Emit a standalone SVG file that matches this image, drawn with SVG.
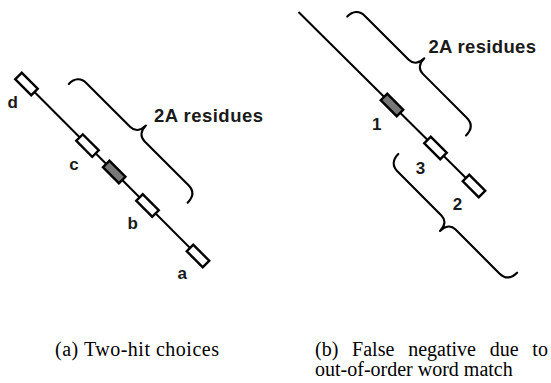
<svg xmlns="http://www.w3.org/2000/svg" xmlns:xlink="http://www.w3.org/1999/xlink" width="551" height="383" viewBox="0 0 551 383">
<style>
.ln{stroke:#000;stroke-width:2;fill:none}
.bx{fill:#fff;stroke:#000;stroke-width:2.4}
.gr{fill:#777;stroke:#000;stroke-width:2.4}
.br{fill:none;stroke:#000;stroke-width:2.1;stroke-linecap:round;stroke-linejoin:round}
.lb{font-family:"Liberation Sans",Arial,sans-serif;font-weight:bold;font-size:17px;fill:#1a1a1a}
.tt{font-family:"Liberation Sans",Arial,sans-serif;font-weight:bold;font-size:18.5px;fill:#1a1a1a}
.cp{font-family:"Liberation Serif","Times New Roman",serif;font-size:20px;fill:#000}
</style>
<defs>
<rect id="box" x="-11.3" y="-4.6" width="22.6" height="9.2"/>
<path id="brace" d="M -84,13 C -84,5 -80,0 -72,0 L -10,0 C -4,0 0,-4 0,-12 C 0,-4 4,0 10,0 L 72,0 C 80,0 84,5 84,13"/>
</defs>
<rect x="0" y="0" width="551" height="383" fill="#fff"/>
<g id="connectors">
<line class="ln" x1="26.5" y1="84" x2="198" y2="256"/>
<line class="ln" x1="298.5" y1="12" x2="474" y2="186"/>
</g>
<g id="panel-a">
<g id="box-d"><use xlink:href="#box" class="bx" transform="translate(26.5,84) rotate(45)"/><text class="lb" x="7.4" y="108">d</text></g>
<g id="box-c"><use xlink:href="#box" class="bx" transform="translate(87.5,145.6) rotate(45)"/><text class="lb" x="69.2" y="170">c</text></g>
<g id="box-hit-a"><use xlink:href="#box" class="gr" transform="translate(114.2,172) rotate(45)"/></g>
<g id="box-b"><use xlink:href="#box" class="bx" transform="translate(147.5,205.5) rotate(45)"/><text class="lb" x="127.4" y="229">b</text></g>
<g id="box-a"><use xlink:href="#box" class="bx" transform="translate(198,256) rotate(45)"/><text class="lb" x="177.5" y="279">a</text></g>
<g id="brace-a"><use xlink:href="#brace" class="br" transform="translate(137.4,134.1) rotate(45)"/><text class="tt" x="154" y="122" textLength="109" lengthAdjust="spacing">2A residues</text></g>
<text class="cp" x="55" y="356" textLength="164" lengthAdjust="spacing">(a) Two-hit choices</text>
</g>
<g id="panel-b">
<g id="box-1"><use xlink:href="#box" class="gr" transform="translate(392,105) rotate(45)"/><text class="lb" x="372" y="130">1</text></g>
<g id="box-3"><use xlink:href="#box" class="bx" transform="translate(435.5,148) rotate(45)"/><text class="lb" x="415.8" y="173.5">3</text></g>
<g id="box-2"><use xlink:href="#box" class="bx" transform="translate(474,186) rotate(45)"/><text class="lb" x="452.8" y="209.5">2</text></g>
<g id="brace-b1"><use xlink:href="#brace" class="br" transform="translate(415.8,66.8) rotate(45)"/><text class="tt" x="428.5" y="52.5" textLength="107.5" lengthAdjust="spacing">2A residues</text></g>
<g id="brace-b2"><use xlink:href="#brace" class="br" transform="translate(448.5,222.5) rotate(45) scale(1,-1)"/></g>
<text class="cp" x="315" y="356" word-spacing="8.8">(b) False negative due to</text>
<text class="cp" x="315" y="376">out-of-order word match</text>
</g>
</svg>
